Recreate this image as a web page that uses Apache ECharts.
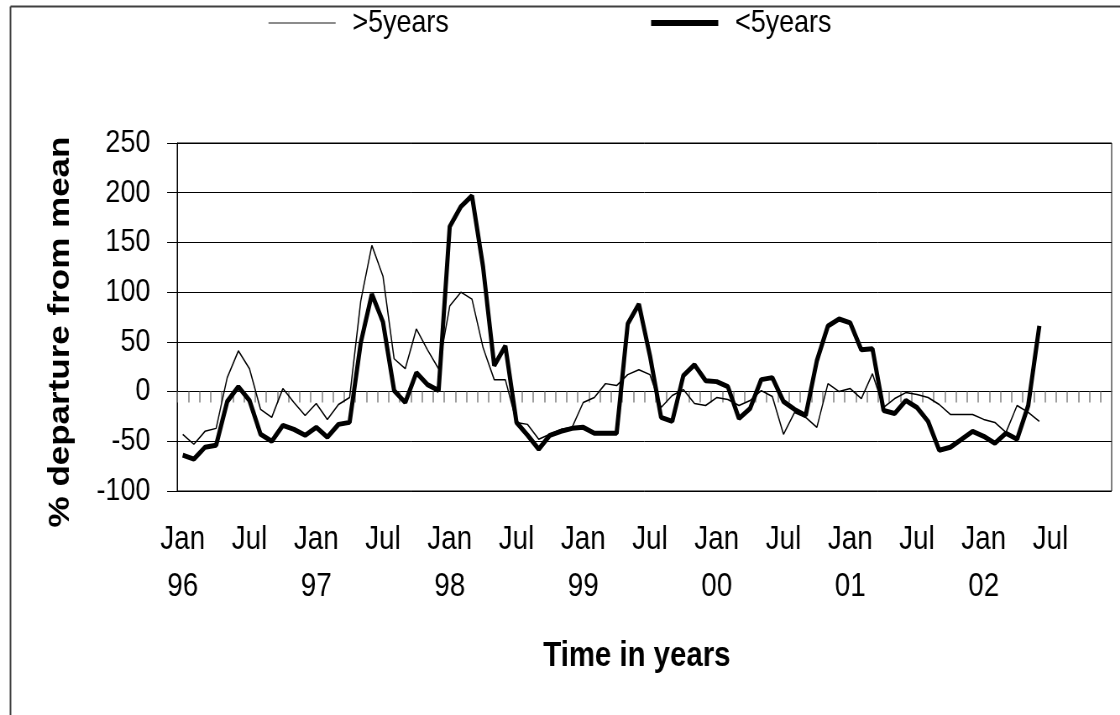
<!DOCTYPE html>
<html>
<head>
<meta charset="utf-8">
<script src="https://cdn.jsdelivr.net/npm/echarts@6/dist/echarts.min.js"></script>
<style>
  html, body { margin: 0; padding: 0; background: #fff; overflow: hidden; }
  /* the original picture is horizontally squeezed, so draw wide and squeeze */
  #main { width: 1334px; height: 715px; transform: scaleX(0.8396); transform-origin: 0 0; }
</style>
</head>
<body>
<div id="main"></div>
<script>
// months Jan 96 .. Dec 02 on the axis, data runs to Jun 02
var years = ['96', '97', '98', '99', '00', '01', '02'];
var months = ['Jan', 'Feb', 'Mar', 'Apr', 'May', 'Jun', 'Jul', 'Aug', 'Sep', 'Oct', 'Nov', 'Dec'];

// % departure from mean, >5 years
var over5 = [
  -43, -53, -40, -37, 14, 41, 23, -18, -26, 3, -11, -24,
  -12, -28, -13, -6, 91, 147, 116, 33, 23, 63, 42, 23,
  86, 100, 93, 44, 12, 12, -31, -33, -48, -43, -38, -36,
  -11, -6, 8, 6, 17, 22, 17, -16, -4, 2, -12, -14,
  -6, -8, -14, -9, 1, -5, -43, -21, -26, -36, 8, 0,
  3, -7, 18, -16, -7, -1, -3, -6, -13, -23, -23, -23,
  -28, -31, -41, -14, -21, -30
];
// % departure from mean, <5 years
var under5 = [
  -64, -68, -56, -54, -10, 5, -9, -43, -50, -34, -38, -44,
  -36, -46, -33, -31, 49, 98, 70, 1, -11, 19, 7, 1,
  166, 186, 197, 125, 26, 46, -31, -44, -58, -44, -40, -37,
  -36, -42, -42, -42, 68, 88, 36, -26, -30, 16, 27, 11,
  10, 5, -27, -17, 12, 14, -10, -18, -24, 31, 66, 73,
  69, 42, 43, -19, -22, -9, -16, -30, -59, -56, -48, -40,
  -45, -52, -42, -48, -14, 66
];

var categories = [];
for (var i = 0; i < years.length; i++) {
  for (var j = 0; j < months.length; j++) {
    categories.push(months[j] + ' ' + years[i]);
  }
}

var font = "'Liberation Sans', Arial, sans-serif";

var chart = echarts.init(document.getElementById('main'));
var option = {
  backgroundColor: '#fff',
  animation: false,
  graphic: [
    { type: 'line', shape: { x1: 12.5, y1: 6.5, x2: 1400, y2: 6.5 }, style: { stroke: '#404040', lineWidth: 2 } },
    { type: 'line', shape: { x1: 12.5, y1: 6.5, x2: 12.5, y2: 730 }, style: { stroke: '#404040', lineWidth: 2 } }
  ],
  legend: {
    left: 314,
    top: 2,
    itemWidth: 80,
    itemHeight: 14,
    itemGap: 238,
    data: [
      { name: '>5years', lineStyle: { width: 1.5, color: '#666' } },
      { name: '<5years', lineStyle: { width: 6, color: '#000' } }
    ],
    itemStyle: { opacity: 0 },
    textStyle: { fontFamily: font, fontSize: 32, color: '#000', padding: [0, 0, 0, 15] }
  },
  grid: {
    left: 211,
    right: 10,
    top: 143,
    bottom: 224,
    show: true,
    borderColor: '#000',
    borderWidth: 1
  },
  xAxis: [
    {
      type: 'category',
      data: categories,
      boundaryGap: true,
      axisLine: { onZero: true, lineStyle: { color: '#000', width: 1 } },
      axisTick: { show: true, interval: 0, length: 11, lineStyle: { color: '#808080', width: 1.5 } },
      axisLabel: { show: false },
      splitLine: { show: false }
    },
    {
      type: 'category',
      data: categories,
      position: 'bottom',
      boundaryGap: true,
      axisLine: { show: false, onZero: false },
      axisTick: { show: false },
      axisLabel: {
        interval: 5,
        margin: 25,
        fontFamily: font,
        fontSize: 33,
        lineHeight: 47,
        color: '#000',
        formatter: function (value) {
          var p = value.split(' ');
          return p[0] == 'Jan' ? p[0] + '\n' + p[1] : p[0];
        }
      },
      name: 'Time in years',
      nameLocation: 'middle',
      nameGap: 148,
      nameTextStyle: { fontFamily: font, fontWeight: 'bold', fontSize: 35, color: '#000', padding: [0, 18, 0, 0] }
    }
  ],
  yAxis: {
    type: 'value',
    min: -100,
    max: 250,
    interval: 50,
    axisLine: { show: true, lineStyle: { color: '#000', width: 1 } },
    axisTick: { show: true, length: 12, lineStyle: { color: '#000' } },
    axisLabel: { margin: 32, fontFamily: font, fontSize: 32, color: '#000' },
    splitLine: { show: true, lineStyle: { color: '#000', width: 1 } },
    name: '% departure from mean',
    nameLocation: 'middle',
    nameRotate: 90,
    nameGap: 121,
    nameTextStyle: { fontFamily: font, fontWeight: 'bold', fontSize: 35, color: '#000', padding: [0, 30, 0, 0] }
  },
  series: [
    {
      name: '>5years',
      type: 'line',
      symbol: 'none',
      lineStyle: { color: '#000', width: 1.5 },
      itemStyle: { color: '#000' },
      data: over5
    },
    {
      name: '<5years',
      type: 'line',
      symbol: 'none',
      lineStyle: { color: '#000', width: 5 },
      itemStyle: { color: '#000' },
      data: under5
    }
  ]
};
chart.setOption(option);
</script>
</body>
</html>
